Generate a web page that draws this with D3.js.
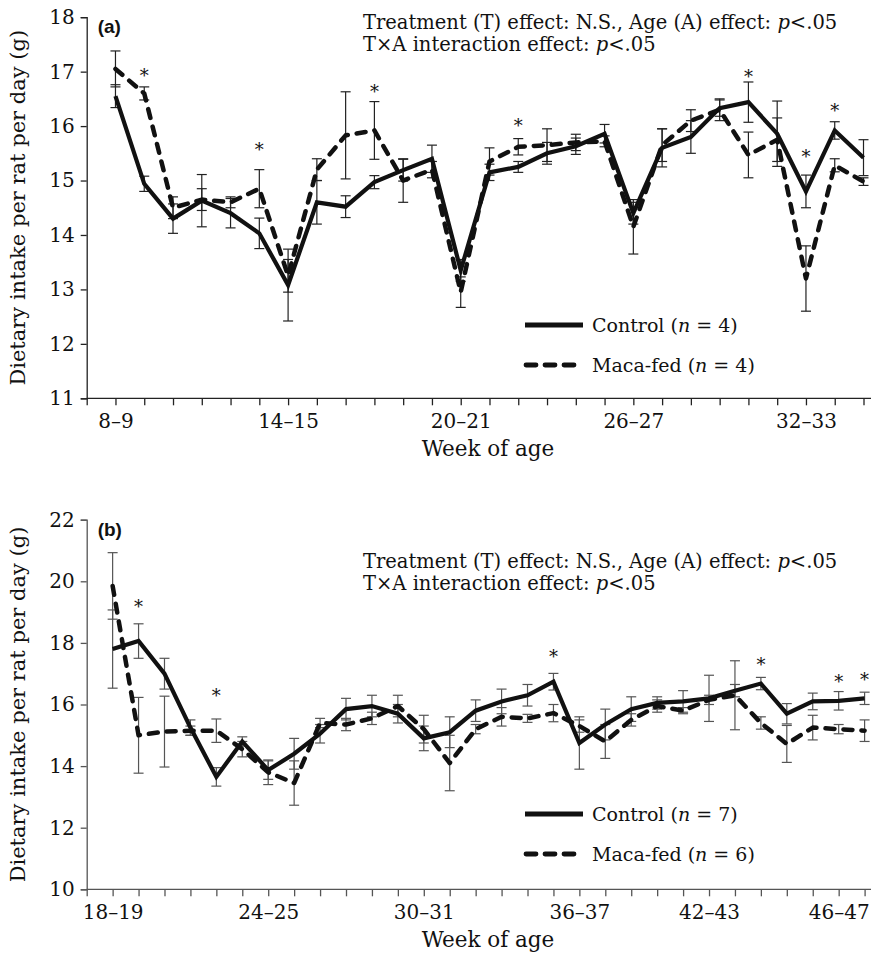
<!DOCTYPE html>
<html><head><meta charset="utf-8">
<script src="https://cdn.jsdelivr.net/npm/d3@7"></script>
<style>body{margin:0;background:#fff}</style>
</head><body>
<svg id="c" width="886" height="953"></svg>
<script>
// ---------- Panel (a) data ----------
const categoriesA = d3.range(8, 35).map(w => w + "–" + (w + 1)); // 8–9 ... 34–35
const tickLabelsA = ["8–9", "14–15", "20–21", "26–27", "32–33"];
const controlA = [16.55,14.94,14.30,14.63,14.40,14.03,13.08,14.60,14.52,14.97,15.19,15.40,13.35,15.15,15.25,15.50,15.63,15.86,14.40,15.60,15.80,16.33,16.44,15.86,14.80,15.92,15.42];
const controlErrA = [0.21,0.14,0.27,0.48,0.27,0.28,0.66,0.40,0.20,0.12,0.20,0.25,0.20,0.15,0.10,0.20,0.15,0.17,0.20,0.35,0.30,0.15,0.37,0.60,0.30,0.16,0.33];
const macaA = [17.05,16.60,14.50,14.65,14.60,14.85,13.25,15.20,15.83,15.92,15.00,15.20,12.95,15.35,15.62,15.65,15.70,15.72,14.15,15.65,16.10,16.30,15.47,15.75,13.20,15.28,14.98];
const macaErrA = [0.33,0.12,0.20,0.20,0.10,0.35,0.30,0.20,0.80,0.53,0.40,0.15,0.28,0.25,0.15,0.30,0.15,0.10,0.50,0.30,0.20,0.20,0.42,0.40,0.60,0.12,0.07];
const starIdxA = [1, 5, 9, 14, 22, 24, 25];
const starValA = [17.02, 15.65, 16.73, 16.10, 16.99, 15.52, 16.38];
const yTicksA = [11, 12, 13, 14, 15, 16, 17, 18];

// ---------- Panel (b) data ----------
const categoriesB = d3.range(0, 30).map(i => "p" + i);
const tickIdxB = [0, 6, 12, 18, 23, 28];
const tickLabelsB = ["18–19", "24–25", "30–31", "36–37", "42–43", "46–47"];
const controlB = [17.80,18.06,17.00,15.25,13.65,14.80,13.87,14.40,15.05,15.85,15.95,15.70,14.90,15.10,15.80,16.10,16.30,16.74,14.75,15.35,15.85,16.05,16.10,16.20,16.45,16.68,15.70,16.10,16.12,16.20];
const controlErrB = [1.27,0.56,0.50,0.25,0.30,0.15,0.30,0.50,0.30,0.35,0.35,0.30,0.40,0.50,0.35,0.40,0.35,0.27,0.85,0.50,0.40,0.20,0.35,0.75,0.20,0.20,0.33,0.27,0.30,0.20];
const macaB = [19.85,15.00,15.12,15.15,15.15,14.55,13.80,13.45,15.40,15.35,15.55,15.95,15.20,14.10,15.20,15.60,15.55,15.72,15.30,14.80,15.50,15.95,15.80,16.15,16.30,15.40,14.72,15.25,15.20,15.15];
const macaErrB = [1.08,1.23,1.15,0.15,0.38,0.25,0.40,0.72,0.15,0.20,0.20,0.35,0.45,0.90,0.15,0.30,0.13,0.28,0.20,0.55,0.20,0.20,0.10,0.15,1.12,0.20,0.60,0.40,0.15,0.35];
const starIdxB = [1, 4, 17, 25, 28, 29];
const starValB = [19.32, 16.45, 17.71, 17.44, 16.90, 16.96];
const yTicksB = [10, 12, 14, 16, 18, 20, 22];

const svg = d3.select("#c");
svg.append("rect").attr("width", 886).attr("height", 953).attr("fill", "#fff");
const SERIF = "'DejaVu Serif', serif";

function panel(o) {
  const g = svg.append("g");
  const n = o.control.length;
  const x = d3.scaleLinear().domain([-1, n - 1]).range([o.left, o.lastX]);
  const y = d3.scaleLinear().domain(o.yDomain).range([o.bottom, o.top]);
  const axCol = o.axisColor;

  // y axis
  const ya = g.append("g").attr("transform", `translate(${o.left},0)`)
    .call(d3.axisLeft(y).tickValues(o.yTicks).tickSize(6).tickPadding(6).tickFormat(d3.format("d")));
  ya.select(".domain").attr("stroke", axCol).attr("stroke-width", 1.3);
  ya.selectAll(".tick line").attr("stroke", axCol).attr("stroke-width", 1.3);
  ya.selectAll("text").attr("font-family", SERIF).attr("font-size", 20).attr("fill", "#111");

  // x axis
  const tickVals = d3.range(-1, n);
  const labelMap = new Map(o.tickIdx.map((t, k) => [t, o.tickLabels[k]]));
  const xa = g.append("g").attr("transform", `translate(0,${o.bottom})`)
    .call(d3.axisBottom(x).tickValues(tickVals).tickSize(7).tickPadding(9)
      .tickFormat(d => labelMap.has(d) ? labelMap.get(d) : ""));
  xa.select(".domain").remove();
  g.append("line").attr("x1", o.left).attr("x2", o.axisEnd).attr("y1", o.bottom).attr("y2", o.bottom)
    .attr("stroke", axCol).attr("stroke-width", 1.3);
  xa.selectAll(".tick line").attr("stroke", axCol).attr("stroke-width", 1.3);
  xa.selectAll("text").attr("font-family", SERIF).attr("font-size", 20).attr("fill", "#111");

  // error bars
  const cap = 5;
  function errBars(vals, errs, col) {
    const eg = g.append("g").attr("stroke", col).attr("stroke-width", 1.2).attr("fill", "none");
    vals.forEach((v, i) => {
      const e = errs[i];
      const cx = x(i);
      eg.append("line").attr("x1", cx).attr("x2", cx).attr("y1", y(v - e)).attr("y2", y(v + e));
      eg.append("line").attr("x1", cx - cap).attr("x2", cx + cap).attr("y1", y(v + e)).attr("y2", y(v + e));
      eg.append("line").attr("x1", cx - cap).attr("x2", cx + cap).attr("y1", y(v - e)).attr("y2", y(v - e));
    });
  }
  errBars(o.control, o.controlErr, o.errColor);
  errBars(o.maca, o.macaErr, o.errColor);

  // lines
  const line = d3.line().x((d, i) => x(i)).y(d => y(d));
  g.append("path").datum(o.maca).attr("d", line).attr("fill", "none").attr("stroke", "#111")
    .attr("stroke-width", 4.5).attr("stroke-dasharray", "9 9").attr("stroke-linecap", "round").attr("stroke-linejoin", "round");
  g.append("path").datum(o.control).attr("d", line).attr("fill", "none").attr("stroke", "#111")
    .attr("stroke-width", 4.2).attr("stroke-linejoin", "miter");

  // stars
  o.starIdx.forEach((si, k) => {
    g.append("text").attr("x", x(si)).attr("y", y(o.starVal[k])).attr("dy", "0.62em")
      .attr("text-anchor", "middle").attr("font-family", SERIF).attr("font-size", 18).attr("fill", "#111").text("*");
  });

  // panel tag
  g.append("text").attr("x", o.left + 11).attr("y", o.top + 16).attr("font-family", "'Liberation Sans', Arial, sans-serif")
    .attr("font-weight", "bold").attr("font-size", 19).attr("fill", "#111").text(o.tag);

  // annotation
  const ann = g.append("g").attr("font-family", SERIF).attr("font-size", 19.5).attr("fill", "#111");
  const t1 = ann.append("text").attr("x", 363).attr("y", o.annY);
  t1.append("tspan").text("Treatment (T) effect: N.S., Age (A) effect: ");
  t1.append("tspan").attr("font-style", "italic").text("p");
  t1.append("tspan").text("<.05");
  const t2 = ann.append("text").attr("x", 363).attr("y", o.annY + 22);
  t2.append("tspan").text("T×A interaction effect: ");
  t2.append("tspan").attr("font-style", "italic").text("p");
  t2.append("tspan").text("<.05");

  // legend
  const lg = g.append("g");
  lg.append("line").attr("x1", 525).attr("x2", 583).attr("y1", o.legY).attr("y2", o.legY)
    .attr("stroke", "#111").attr("stroke-width", 4.8);
  lg.append("line").attr("x1", 526).attr("x2", 580).attr("y1", o.legY + 40).attr("y2", o.legY + 40)
    .attr("stroke", "#111").attr("stroke-width", 4.8).attr("stroke-dasharray", "10 9").attr("stroke-linecap", "round");
  [[o.nC, 0, "Control ("], [o.nM, 40, "Maca-fed ("]].forEach(([nn, dy, lab]) => {
    const t = lg.append("text").attr("x", 592).attr("y", o.legY + dy + 7).attr("font-family", SERIF)
      .attr("font-size", 19).attr("fill", "#111");
    t.append("tspan").text(lab);
    t.append("tspan").attr("font-style", "italic").text("n");
    t.append("tspan").text(" = " + nn + ")");
  });

  // axis titles
  g.append("text").attr("x", 488).attr("y", o.bottom + 58).attr("text-anchor", "middle")
    .attr("font-family", SERIF).attr("font-size", 21.5).attr("fill", "#111").text("Week of age");
  g.append("text").attr("transform", `translate(25,${(o.top + o.bottom) / 2}) rotate(-90)`)
    .attr("text-anchor", "middle").attr("font-family", SERIF).attr("font-size", 21).attr("fill", "#111")
    .text("Dietary intake per rat per day (g)");
}

panel({
  tag: "(a)", control: controlA, controlErr: controlErrA, maca: macaA, macaErr: macaErrA,
  starIdx: starIdxA, starVal: starValA, yTicks: yTicksA, yDomain: [11, 18],
  tickIdx: [0, 6, 12, 18, 24], tickLabels: tickLabelsA,
  left: 86.7, lastX: 863.5, axisEnd: 871, top: 17.2, bottom: 398.3,
  axisColor: "#222", errColor: "#222", annY: 29, legY: 325, nC: 4, nM: 4
});
panel({
  tag: "(b)", control: controlB, controlErr: controlErrB, maca: macaB, macaErr: macaErrB,
  starIdx: starIdxB, starVal: starValB, yTicks: yTicksB, yDomain: [10, 22],
  tickIdx: tickIdxB, tickLabels: tickLabelsB,
  left: 86.7, lastX: 864.6, axisEnd: 871, top: 519.7, bottom: 889.3,
  axisColor: "#555", errColor: "#555", annY: 568, legY: 814, nC: 7, nM: 6
});
</script>
</body></html>
